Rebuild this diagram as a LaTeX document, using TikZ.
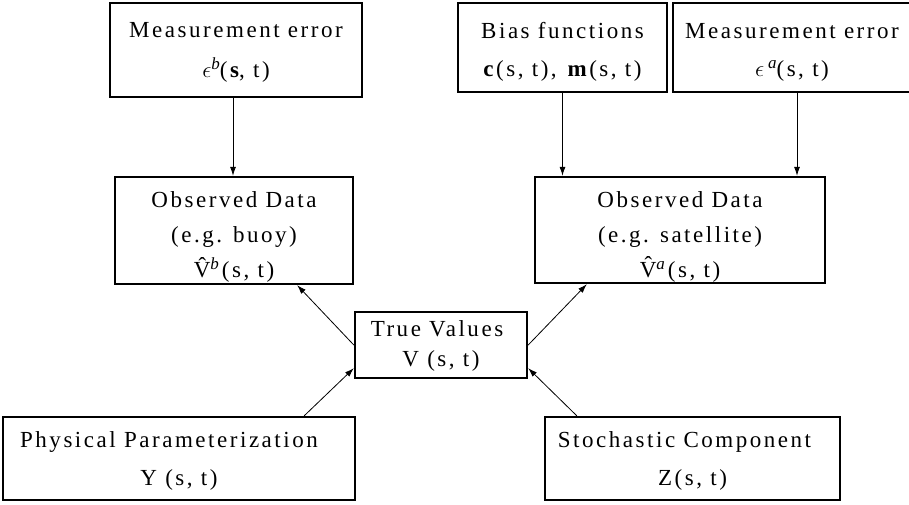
\RequirePackage{fix-cm}
\documentclass[tikz,border=0pt]{standalone}
\usepackage{fontspec}
\setmainfont[LetterSpace=11]{Liberation Serif}
\usetikzlibrary{arrows.meta}
\newcommand{\txtlines}[2]{\raisebox{#1}[\height][\depth]{\begin{tabular}{@{}c@{}}#2\end{tabular}}}
\newcommand{\supl}[1]{\raisebox{8pt}{\fontsize{17}{17}\selectfont\itshape #1}}
\newcommand{\vhat}{\leavevmode\hbox{V\kern-11.5pt\raisebox{4pt}{\^{}}\kern3pt}}
\begin{document}
\begin{tikzpicture}[x=1pt,y=-1pt,
  box/.style={draw, line width=2.4pt, rectangle, align=center, inner sep=0pt},
  fa/.style={font=\fontsize{23}{40}\selectfont},
  fb/.style={font=\fontsize{23}{38}\selectfont},
  fc/.style={font=\fontsize{23}{35}\selectfont},
  fd/.style={font=\fontsize{23}{30}\selectfont},
  arr/.style={-{Latex[length=9pt,width=6pt]}, line width=0.8pt}]
\useasboundingbox (0,0) rectangle (909,505);
\fill[white] (0,0) rectangle (909,505);

\node[box, fa, minimum width=252pt, minimum height=94pt] (meb) at (236,50)
  {\txtlines{0pt}{Measurement error\\ $\epsilon$\supl{b}(\textbf{s}, t)}};
\node[box, fb, minimum width=209pt, minimum height=89pt] (bias) at (562.5,47.5)
  {\txtlines{-2pt}{Bias functions\\ \textbf{c}(s, t), \textbf{m}(s, t)}};
\node[box, fb, minimum width=238pt, minimum height=89pt] (mea) at (792,47.5)
  {\txtlines{-2pt}{Measurement error\\ $\epsilon$\,\supl{a}(s, t)}};

\node[box, fc, minimum width=238pt, minimum height=107pt] (obsb) at (234,230.5)
  {\txtlines{-5pt}{Observed Data\\ (e.g. buoy)\\ \^{V}\supl{b}\hspace{3pt}(s, t)}};
\node[box, fc, minimum width=290pt, minimum height=106pt] (obsa) at (680,230)
  {\txtlines{-5pt}{Observed Data\\ (e.g. satellite)\\ \^{V}\supl{a}\hspace{3pt}(s, t)}};

\node[box, fd, minimum width=172pt, minimum height=66pt] (tv) at (441,345)
  {\txtlines{0pt}{\hspace*{-8pt}True Values\\ V (s, t)}};

\node[box, fb, minimum width=352pt, minimum height=83pt] (phys) at (179,458.5)
  {\txtlines{0pt}{\hspace*{-20pt}Physical Parameterization\\ Y (s, t)}};
\node[box, fb, minimum width=295pt, minimum height=83pt] (stoch) at (692.5,458.5)
  {\txtlines{0pt}{\hspace*{-16pt}Stochastic Component\\ Z(s, t)}};

\draw[arr] ([xshift=-3pt]meb.south) -- ([xshift=-3pt]meb.south |- obsb.north);
\draw[arr] (bias.south) -- (bias.south |- obsa.north);
\draw[arr] ([xshift=5pt]mea.south) -- ([xshift=5pt]mea.south |- obsa.north);
\draw[arr] (tv.west) -- ([xshift=-57pt]obsb.south east);
\draw[arr] (tv.east) -- ([xshift=53pt]obsa.south west);
\draw[arr] ([xshift=-52pt]phys.north east) -- ([yshift=11pt]tv.south west);
\draw[arr] ([xshift=33pt]stoch.north west) -- ([yshift=11pt]tv.south east);
\end{tikzpicture}
\end{document}
